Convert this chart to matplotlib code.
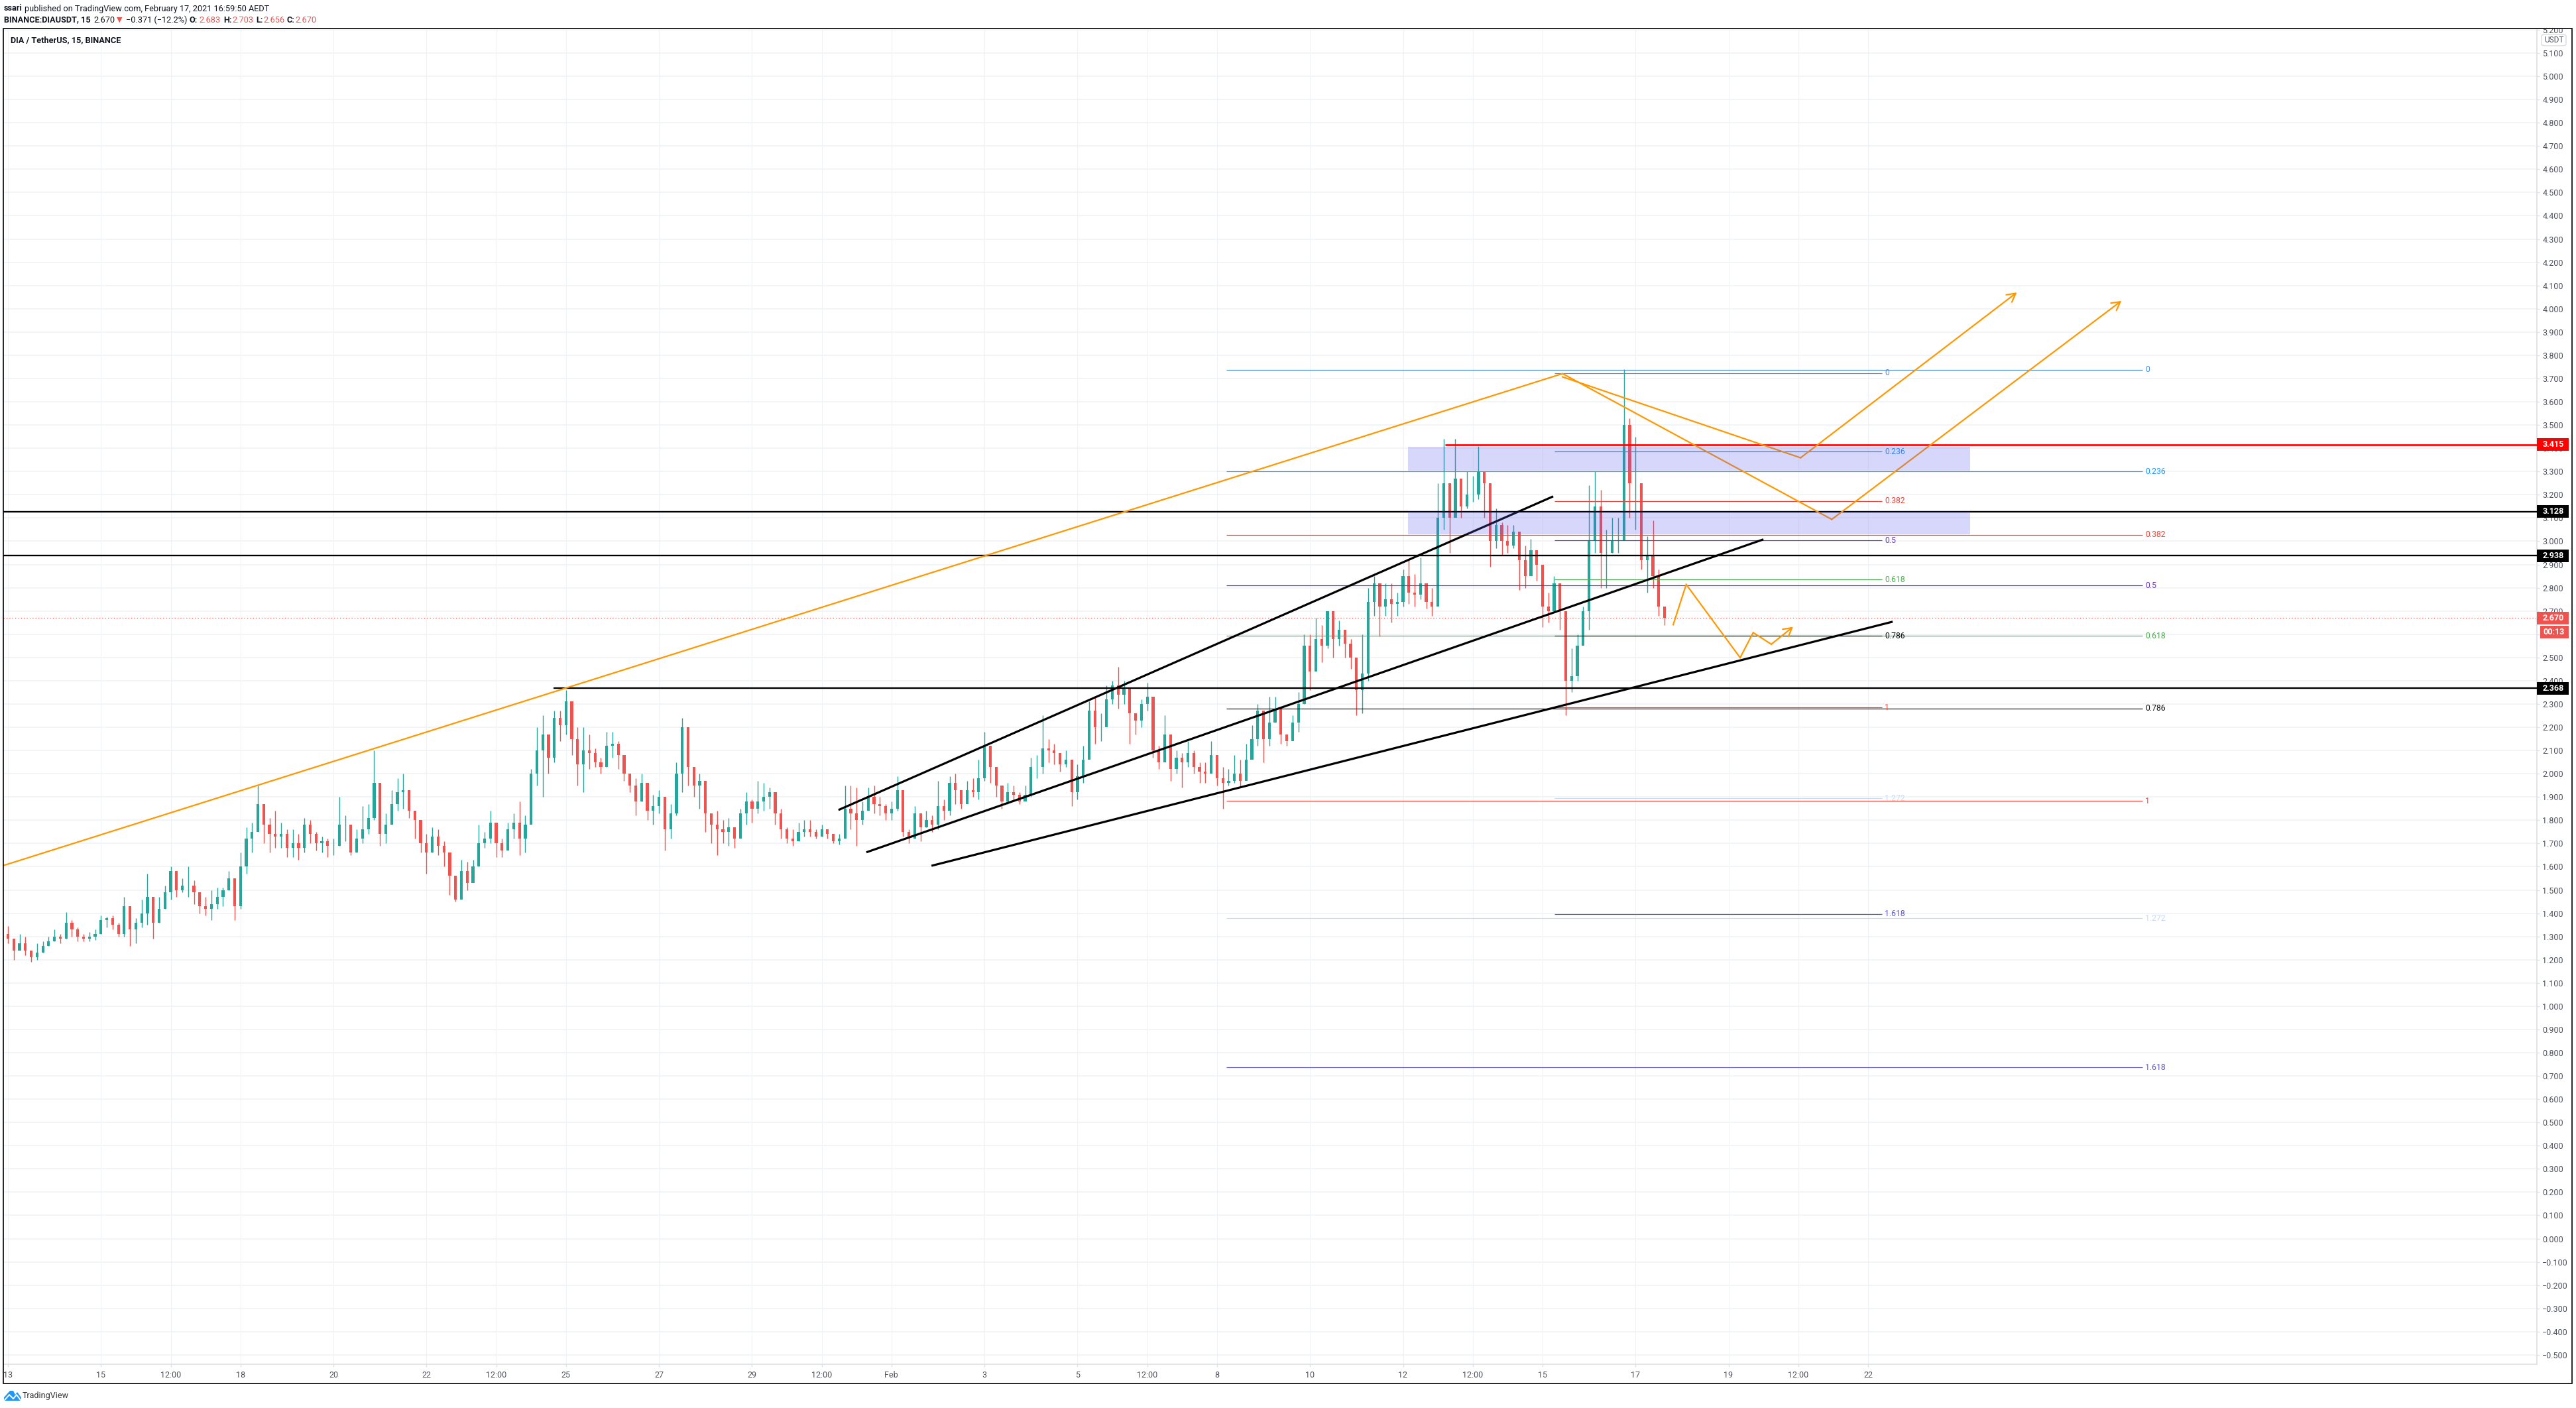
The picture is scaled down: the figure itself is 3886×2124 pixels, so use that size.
import numpy as np
import matplotlib
matplotlib.use('Agg')
import matplotlib.pyplot as plt
from matplotlib.patches import Rectangle, FancyBboxPatch, Polygon

W, H = 3887, 2124
plt.rcParams['font.family'] = ['Roboto', 'DejaVu Sans']

# 3 hour bars, first bar is Jan 13
closes = [
    1.29,1.24,1.27,1.24,1.21,1.23,1.26,1.28,1.30,1.29,
    1.36,1.33,1.30,1.29,1.30,1.31,1.37,1.38,1.35,1.31,
    1.43,1.33,1.36,1.40,1.47,1.36,1.42,1.49,1.58,1.50,
    1.52,1.52,1.49,1.43,1.42,1.44,1.47,1.50,1.55,1.43,
    1.60,1.72,1.75,1.87,1.78,1.74,1.73,1.74,1.68,1.70,
    1.68,1.78,1.74,1.70,1.71,1.69,1.69,1.78,1.78,1.66,
    1.72,1.76,1.81,1.96,1.74,1.78,1.87,1.92,1.93,1.84,
    1.80,1.70,1.66,1.73,1.69,1.66,1.56,1.46,1.58,1.53,
    1.60,1.70,1.72,1.79,1.70,1.67,1.76,1.79,1.72,1.78,
    2.00,2.10,2.17,2.07,2.24,2.21,2.31,2.15,2.04,2.10,
    2.09,2.05,2.03,2.12,2.13,2.08,2.00,1.95,1.88,1.96,
    1.84,1.86,1.90,1.76,1.83,2.00,2.20,2.03,1.95,1.97,
    1.83,1.78,1.76,1.75,1.77,1.72,1.83,1.88,1.85,1.88,
    1.90,1.92,1.83,1.76,1.72,1.71,1.75,1.76,1.75,1.73,
    1.76,1.74,1.71,1.72,
    1.85,1.83,1.80,1.84,1.90,1.87,1.86,1.83,1.85,1.93,
    1.75,1.72,1.83,1.77,1.80,1.78,1.86,1.84,1.96,1.93,
    1.87,1.93,1.92,1.98,2.12,2.03,1.95,1.88,1.92,1.91,
    1.88,1.91,2.03,2.03,2.11,2.10,2.09,2.04,2.06,
    1.92,1.99,2.06,2.27,2.20,2.20,2.32,2.38,2.34,2.37,
    2.26,2.23,2.30,2.33,2.10,2.05,2.17,2.02,2.07,2.05,
    2.09,2.03,2.01,2.00,2.08,1.98,1.96,1.97,2.00,
    1.97,2.06,2.15,2.27,2.15,2.22,2.28,2.17,2.14,2.22,
    2.30,2.55,2.44,2.58,2.55,
    2.70,2.58,2.62,2.56,2.50,2.36,2.43,2.74,2.82,2.72,
    2.75,2.73,2.74,2.85,2.78,2.77,2.82,2.74,
    2.72,3.10,3.25,3.10,3.27,3.15,3.20,3.20,3.30,3.25,
    3.00,3.07,3.00,2.98,3.04,2.92,2.85,2.96,2.90,2.72,
    2.70,2.82,2.70,2.40,2.42,2.55,2.70,3.00,3.15,2.95,
    2.95,3.00,3.00,3.50,3.25,3.25,2.92,2.94,2.85,2.72,
    2.67,
]
highs = [
    1.345,1.29,1.31,1.30,1.24,1.27,1.28,1.30,1.33,1.31,
    1.405,1.37,1.34,1.31,1.32,1.33,1.39,1.385,1.39,1.36,
    1.47,1.37,1.38,1.46,1.57,1.44,1.47,1.52,1.60,1.55,
    1.55,1.60,1.54,1.48,1.47,1.50,1.51,1.51,1.58,1.47,
    1.66,1.77,1.79,1.95,1.84,1.81,1.84,1.79,1.76,1.76,
    1.74,1.81,1.80,1.75,1.73,1.72,1.72,1.90,1.82,1.77,
    1.76,1.86,1.87,2.10,1.88,1.83,1.93,1.98,2.00,1.88,
    1.83,1.75,1.74,1.77,1.76,1.71,1.62,1.55,1.63,1.62,
    1.63,1.78,1.75,1.84,1.74,1.72,1.79,1.83,1.88,1.82,
    2.02,2.20,2.25,2.14,2.27,2.27,2.36,2.20,2.20,2.20,
    2.17,2.11,2.07,2.18,2.18,2.14,2.06,2.00,1.98,2.00,
    1.92,1.91,1.93,1.80,1.87,2.05,2.24,2.05,2.00,2.00,
    1.88,1.82,1.84,1.80,1.81,1.77,1.85,1.92,1.89,1.97,
    1.96,1.94,1.90,1.85,1.77,1.76,1.79,1.80,1.80,1.76,
    1.78,1.76,1.73,1.74,
    1.95,1.95,1.94,1.88,1.94,1.95,1.90,1.87,1.88,1.99,
    1.80,1.76,1.86,1.80,1.84,1.82,1.97,1.89,1.99,2.00,
    1.92,1.97,1.98,2.06,2.18,2.11,2.01,1.92,1.96,1.95,
    1.92,1.95,2.07,2.08,2.25,2.15,2.13,2.08,2.10,
    2.02,2.04,2.12,2.31,2.33,2.26,2.38,2.40,2.46,2.40,
    2.35,2.26,2.32,2.39,2.22,2.12,2.25,2.13,2.10,2.09,
    2.14,2.10,2.05,2.05,2.14,2.05,2.03,2.02,2.08,
    2.06,2.13,2.21,2.30,2.16,2.33,2.33,2.22,2.16,2.25,
    2.35,2.60,2.60,2.67,2.64,
    2.70,2.70,2.66,2.62,2.58,2.48,2.60,2.80,2.85,2.80,
    2.82,2.82,2.78,2.88,2.92,2.86,2.93,2.82,
    2.80,3.25,3.44,3.22,3.44,3.24,3.30,3.28,3.41,3.30,
    3.14,3.14,3.08,3.07,3.07,3.00,2.98,3.01,2.96,2.84,
    2.78,2.85,2.78,2.58,2.54,2.60,2.72,3.24,3.30,3.22,
    3.05,3.10,3.10,3.74,3.53,3.45,3.20,3.02,3.09,2.88,
    2.72,
]
lows = [
    1.27,1.20,1.25,1.22,1.19,1.20,1.23,1.26,1.28,1.27,
    1.29,1.30,1.28,1.28,1.28,1.285,1.31,1.34,1.33,1.30,
    1.30,1.26,1.27,1.34,1.35,1.29,1.36,1.42,1.46,1.47,
    1.49,1.47,1.44,1.40,1.39,1.37,1.42,1.43,1.50,1.37,
    1.42,1.57,1.66,1.76,1.70,1.66,1.68,1.68,1.64,1.64,
    1.63,1.66,1.70,1.67,1.66,1.64,1.65,1.69,1.71,1.65,
    1.66,1.70,1.74,1.80,1.69,1.70,1.78,1.84,1.85,1.81,
    1.72,1.66,1.57,1.66,1.65,1.60,1.48,1.45,1.48,1.50,
    1.54,1.60,1.68,1.70,1.64,1.64,1.70,1.72,1.65,1.66,
    1.80,1.95,1.90,2.00,2.05,2.14,2.17,2.08,1.95,1.92,
    2.02,2.03,2.00,2.03,2.07,2.02,1.97,1.92,1.82,1.88,
    1.80,1.78,1.83,1.67,1.72,1.82,1.92,1.95,1.90,1.85,
    1.75,1.70,1.65,1.70,1.69,1.68,1.75,1.78,1.79,1.83,
    1.84,1.85,1.78,1.72,1.70,1.69,1.71,1.73,1.73,1.72,
    1.73,1.72,1.70,1.695,
    1.78,1.76,1.69,1.78,1.85,1.83,1.82,1.80,1.80,1.84,
    1.73,1.70,1.72,1.71,1.77,1.75,1.76,1.80,1.82,1.87,
    1.85,1.89,1.90,1.89,1.97,1.96,1.90,1.85,1.87,1.88,
    1.87,1.89,1.90,1.98,2.00,2.05,2.04,2.01,2.03,
    1.86,1.89,1.96,2.11,2.13,2.14,2.24,2.30,2.28,2.30,
    2.13,2.17,2.20,2.27,2.07,2.02,2.08,1.97,2.00,1.94,
    2.03,2.00,1.96,1.96,2.03,1.95,1.85,1.95,1.96,
    1.94,1.98,2.08,2.12,2.05,2.12,2.24,2.13,2.12,2.15,
    2.18,2.30,2.36,2.46,2.48,
    2.54,2.50,2.55,2.50,2.45,2.25,2.26,2.40,2.68,2.59,
    2.68,2.65,2.68,2.72,2.73,2.72,2.75,2.71,
    2.68,2.90,3.05,2.95,3.15,3.10,3.14,3.17,3.18,3.10,
    2.89,2.97,2.94,2.95,2.97,2.79,2.80,2.88,2.83,2.63,
    2.65,2.74,2.62,2.25,2.35,2.40,2.56,2.62,2.95,2.80,
    2.80,2.95,2.95,3.08,3.10,3.05,2.88,2.78,2.80,2.68,
    2.64,
]

# axis ticks, days counted from Jan 13
x_tick_days = [0, 2, 3.5, 5, 7, 9, 10.5, 12, 14, 16, 17.5, 19, 21, 23, 24.5, 26, 28, 30, 31.5, 33, 35, 37, 38.5, 40]
x_tick_labels = ['13', '15', '12:00', '18', '20', '22', '12:00', '25', '27', '29', '12:00', 'Feb', '3', '5', '12:00',
                 '8', '10', '12', '12:00', '15', '17', '19', '12:00', '22']
y_ticks = np.round(np.arange(-5, 53) * 0.1, 1)

# fib retracements
fib_labels = ['0', '0.236', '0.382', '0.5', '0.618', '0.786', '1', '1.272', '1.618']
fib_colors = ['#4a90e2', '#2196f3', '#f44336', '#673ab7', '#4caf50', '#111111', '#f44336', '#c9daf5', '#5e57c9']
fib_long_prices = [3.738, 3.300, 3.028, 2.809, 2.593, 2.280, 1.883, 1.378, 0.737]
fib_short_prices = [3.724, 3.385, 3.173, 3.003, 2.835, 2.593, 2.285, 1.894, 1.396]
fib_long_days = [26.2, 45.9]
fib_short_days = [33.26, 40.3]

# horizontal levels
level_prices = [3.128, 2.938, 2.368]
level_starts = [-0.1, -0.1, 11.73]
red_level = 3.415
red_start = 30.9
last_price = 2.670

# supply zones
zone_days = [30.1, 42.2]
zone_upper = [3.405, 3.128]
zone_lower = [3.303, 3.029]

# drawings
trend_days = [[17.86, 33.23], [18.46, 37.75], [19.86, 40.53]]
trend_prices = [[1.844, 3.193], [1.662, 3.008], [1.604, 2.654]]
orange_a_days = [-0.1, 33.43, 39.22, 45.45]
orange_a_prices = [1.605, 3.721, 3.094, 4.034]
orange_b_days = [33.43, 38.55, 43.2]
orange_b_prices = [3.707, 3.359, 4.07]
orange_c_days = [35.81, 36.09, 37.25, 37.53, 37.92, 38.39]
orange_c_prices = [2.641, 2.814, 2.499, 2.607, 2.557, 2.632]

UP = '#26a69a'
DOWN = '#ef5350'
ORANGE = '#ff9800'
GRID = '#f0f3f6'
TXT = '#50535e'
DARK = '#131722'

fig = plt.figure(figsize=(W / 100, H / 100), dpi=100, facecolor='white')
ax = fig.add_axes([5 / W, 1 - 2058 / H, (3827 - 5) / W, (2058 - 43) / H])
ax.set_xlim((5 - 12) / 70.15, (3827 - 12) / 70.15)
ax.set_ylim(5.1 - (2058 - 80) / 350.7, 5.1 + (80 - 43) / 350.7)
ax.set_axisbelow(True)

ax.yaxis.tick_right()
ax.set_yticks(y_ticks)
ax.set_yticklabels(['%.3f' % v if v >= 0 else '\u2212%.3f' % abs(v) for v in y_ticks])
ax.set_xticks(x_tick_days)
ax.set_xticklabels(x_tick_labels)
ax.tick_params(axis='y', length=3, width=1, color='#dfe1e5', labelcolor=TXT, labelsize=9, pad=3)
ax.tick_params(axis='x', length=3, width=1, color='#dfe1e5', labelcolor=TXT, labelsize=9, pad=4)
ax.grid(True, axis='y', color=GRID, lw=1.2)
ax.grid(True, axis='x', color=GRID, lw=0.8)
for s in ['top', 'left']:
    ax.spines[s].set_visible(False)
for s in ['right', 'bottom']:
    ax.spines[s].set_color('#dfe1e5')
    ax.spines[s].set_linewidth(1.3)

# candles
c = np.array(closes)
hi = np.array(highs)
lo = np.array(lows)
o = np.r_[c[0] + 0.02, c[:-1]]
days = np.arange(len(c)) * 0.125
cols = [UP if cc >= oo else DOWN for cc, oo in zip(c, o)]
ax.vlines(days, lo, hi, colors=cols, lw=1.0, zorder=3)
ax.bar(days, np.abs(c - o), bottom=np.minimum(c, o), width=0.06, color=cols, lw=0, zorder=3)

# fib lines and their labels
for prices, span in [(fib_long_prices, fib_long_days), (fib_short_prices, fib_short_days)]:
    for p, lab, col in zip(prices, fib_labels, fib_colors):
        ax.plot(span, [p, p], color=col, lw=0.85, zorder=4, solid_capstyle='butt')
        ax.text(span[1] + 0.06, p, lab, color=col, fontsize=8.8, va='center', ha='left', zorder=6)

for p, st in zip(level_prices, level_starts):
    ax.plot([st, 60], [p, p], color='black', lw=1.7, zorder=4, solid_capstyle='butt')
ax.plot([red_start, 60], [red_level, red_level], color='#ff0000', lw=1.9, zorder=4, solid_capstyle='butt')
ax.axhline(last_price, color=DOWN, lw=0.9, ls=(0, (1, 2.5)), zorder=2)

for xs, ys in zip(trend_days, trend_prices):
    ax.plot(xs, ys, color='black', lw=2.3, zorder=5, solid_capstyle='butt')

for xs, ys in [(orange_a_days, orange_a_prices), (orange_b_days, orange_b_prices), (orange_c_days, orange_c_prices)]:
    ax.plot(xs[:-1], ys[:-1], color=ORANGE, lw=1.6, zorder=5, solid_joinstyle='miter')
    ax.annotate('', xy=(xs[-1], ys[-1]), xytext=(xs[-2], ys[-2]), zorder=5,
                arrowprops=dict(arrowstyle='->,head_length=0.9,head_width=0.5', color=ORANGE, lw=1.6,
                                shrinkA=0, shrinkB=0))

for top, bot in zip(zone_upper, zone_lower):
    ax.fill_between(zone_days, [bot, bot], [top, top], color='#5a5af0', alpha=0.24, lw=0, zorder=6)

# price labels on the axis
yt = ax.get_yaxis_transform()
box_w = 48 / 3822
for p, col, st in [(3.415, '#ff0000', '3.415'), (3.128, '#000000', '3.128'), (2.938, '#000000', '2.938'),
                   (2.368, '#000000', '2.368'), (2.670, DOWN, '2.670')]:
    ax.add_patch(Rectangle((1.0, p - 0.027), box_w, 0.054, transform=yt, color=col, lw=0, clip_on=False, zorder=8))
    ax.text(1 + 9 / 3822, p, st, transform=yt, color='white', fontsize=9, fontweight='bold', va='center', ha='left', zorder=9)
ax.add_patch(Rectangle((1 + 5 / 3822, 2.670 - 0.087), 43 / 3822, 0.054, transform=yt, color=DOWN, lw=0, clip_on=False, zorder=8))
ax.text(1 + 9 / 3822, 2.670 - 0.06, '00:13', transform=yt, color='white', fontsize=9, fontweight='bold', va='center', ha='left', zorder=9)


def px_text(x, y, s, **kw):
    kw.setdefault('va', 'center')
    kw.setdefault('fontsize', 9.2)
    kw.setdefault('color', DARK)
    fig.text(x / W, 1 - y / H, s, **kw)


# covers the top tick label above the frame, then the frame
fig.add_artist(Rectangle((3700 / W, 1 - 43 / H), 187 / W, 43 / H, transform=fig.transFigure, color='white', lw=0, zorder=10))
fig.add_artist(Rectangle((4.5 / W, 1 - 2087 / H), (3880 - 4.5) / W, (2087 - 43) / H, transform=fig.transFigure,
                         fill=False, edgecolor='black', lw=1.2, zorder=11))
fig.add_artist(FancyBboxPatch((3834 / W, 1 - 69 / H), 37 / W, 17 / H, boxstyle='round,pad=0,rounding_size=0.002',
                              transform=fig.transFigure, facecolor='white', edgecolor='#d6d8e0', lw=0.9, zorder=12,
                              mutation_aspect=H / W * 1.0))
px_text(3852.5, 60, 'USDT', color=TXT, ha='center', zorder=13, fontsize=8.6)

# header
px_text(6, 13, 'ssari', fontweight='bold')
px_text(37, 13, 'published on TradingView.com, February 17, 2021 16:59:50 AEDT')
px_text(6, 30, 'BINANCE:DIAUSDT, 15', fontweight='bold')
px_text(141.5, 30, '2.670')
px_text(176, 30, '\u25bc', color=DOWN, fontsize=8, family=['DejaVu Sans'])
px_text(190, 30, '\u22120.371 (\u221212.2%)')
for x_, st, bold in [(286, 'O:', True), (300, '2.683', False), (337, 'H:', True), (350, '2.703', False),
                     (386, 'L:', True), (397, '2.656', False), (433, 'C:', True), (445, '2.670', False)]:
    if bold:
        px_text(x_, 30, st, fontweight='bold')
    else:
        px_text(x_, 30, st, color=DOWN)
px_text(15.6, 61, 'DIA / TetherUS, 15, BINANCE', fontweight='bold')

# logo
logo = [(6, 2113), (6, 2108), (15, 2098), (20, 2098), (23, 2104), (26, 2100), (32, 2108), (32, 2113)]
fig.add_artist(Polygon([(x_ / W, 1 - y_ / H) for x_, y_ in logo], closed=True, transform=fig.transFigure,
                       facecolor='#2196f3', lw=0))
fig.add_artist(plt.Line2D([v / W for v in (7, 14, 20, 25, 31)], [1 - v / H for v in (2112, 2104, 2110, 2104, 2112)],
                          color='white', lw=1.4))
px_text(34, 2106, 'TradingView', fontsize=9, color='#333333')

fig.savefig('out.png', dpi=100, facecolor='white')
print(len(closes), len(highs), len(lows))
